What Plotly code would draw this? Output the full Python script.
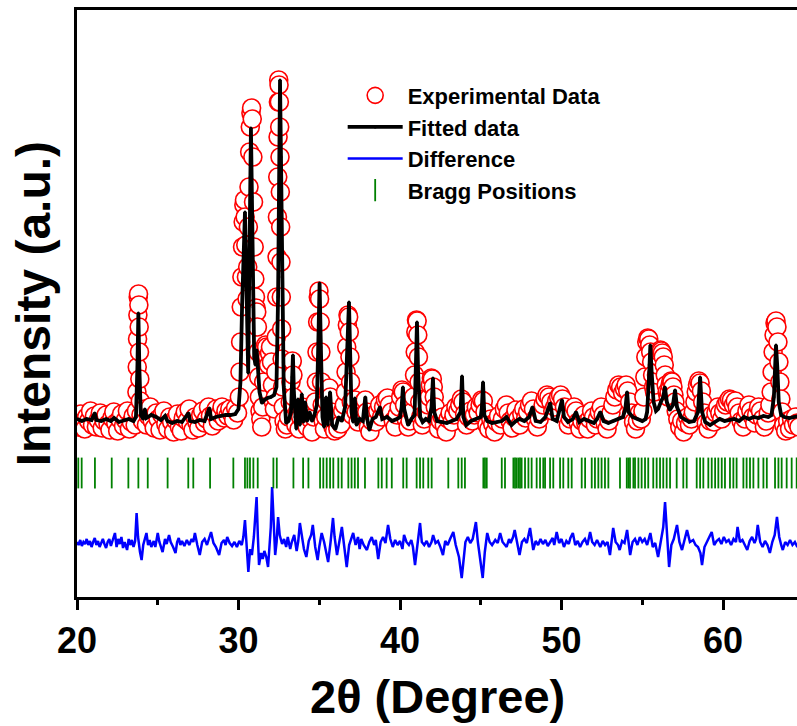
import plotly.graph_objects as go

# ---------------- data (2theta in degrees, intensity in a.u.) ----------------
experimental = [
    (20.00,178),(20.12,170),(20.24,183),(20.36,175),(20.48,168),(20.60,180),(20.72,176),(20.84,186),
    (20.96,172),(21.08,181),(21.20,170),(21.32,177),(21.44,184),(21.56,169),(21.68,176),(21.80,182),
    (21.92,173),(22.04,167),(22.16,179),(22.28,185),(22.40,174),(22.52,166),(22.64,178),(22.76,183),
    (22.88,171),(23.00,177),(23.12,186),(23.24,168),(23.36,175),(23.48,181),(23.60,172),
    (23.68,186),(23.71,205),(23.73,230),(23.75,258),(23.77,282),(23.79,300),(23.81,303),(23.83,292),
    (23.85,270),(23.87,245),(23.89,218),(23.92,196),(23.96,182),
    (24.05,176),(24.18,188),(24.30,172),(24.42,181),(24.54,190),(24.66,176),(24.78,169),(24.90,184),
    (25.02,178),(25.14,167),(25.26,182),(25.38,186),(25.50,173),(25.62,168),(25.74,180),(25.86,175),
    (25.98,165),(26.10,177),(26.22,183),(26.34,170),(26.46,166),(26.58,179),(26.70,185),(26.82,176),
    (26.94,188),(27.06,172),(27.18,167),(27.30,180),(27.42,175),(27.54,169),(27.66,182),(27.78,186),
    (27.90,174),(28.02,178),(28.14,190),(28.26,181),(28.38,171),(28.50,184),(28.62,188),(28.74,176),
    (28.86,183),(28.98,190),(29.10,179),(29.22,186),(29.34,181),(29.46,188),(29.58,183),(29.70,177),
    (29.82,189),(29.94,184),
    (30.05,200),(30.09,225),(30.13,255),(30.17,290),(30.21,320),(30.25,350),(30.29,375),(30.33,392),
    (30.37,397),(30.41,380),(30.45,352),(30.49,320),(30.53,298),(30.57,330),(30.61,370),(30.65,410),
    (30.69,445),(30.73,470),(30.77,484),(30.81,489),(30.85,478),(30.89,440),(30.93,395),(30.97,350),
    (31.01,318),(31.05,300),(31.09,289),(31.13,285),(31.17,270),(31.21,245),(31.25,220),(31.29,200),
    (31.33,186),(31.38,178),(31.44,170),
    (31.50,190),(31.56,215),(31.62,240),(31.68,252),(31.74,250),(31.80,240),(31.86,232),(31.92,244),
    (31.98,250),(32.04,235),(32.10,212),(32.16,195),(32.22,188),
    (32.28,200),(32.31,225),(32.34,260),(32.37,300),(32.39,340),(32.41,380),(32.43,420),(32.45,460),
    (32.47,495),(32.49,517),(32.51,512),(32.53,495),(32.55,470),(32.57,440),(32.59,405),(32.61,370),
    (32.63,335),(32.65,300),(32.67,268),(32.70,238),(32.73,210),(32.77,190),(32.82,176),(32.90,168),
    (33.00,172),(33.10,180),
    (33.20,195),(33.25,215),(33.29,235),(33.33,236),(33.37,222),(33.41,200),(33.47,180),
    (33.55,172),(33.65,185),(33.75,168),(33.85,180),(33.95,190),(34.05,176),(34.15,185),(34.25,170),
    (34.35,182),(34.45,178),(34.55,165),(34.65,180),(34.75,195),
    (34.82,215),(34.86,245),(34.90,275),(34.94,300),(34.98,306),(35.02,298),(35.06,275),(35.10,245),
    (35.14,215),(35.18,192),(35.24,176),
    (35.32,168),(35.40,180),(35.48,195),(35.56,205),(35.62,209),(35.68,200),(35.76,185),(35.85,170),
    (35.95,166),(36.05,175),(36.15,168),(36.25,180),(36.35,173),(36.45,186),(36.55,192),
    (36.62,205),(36.66,225),(36.70,250),(36.74,272),(36.78,282),(36.82,280),(36.86,265),(36.90,240),
    (36.94,215),(36.98,195),(37.04,182),
    (37.12,190),(37.20,197),(37.28,185),(37.40,175),(37.52,182),(37.64,190),(37.76,195),(37.85,197),
    (37.94,185),(38.04,170),(38.14,165),(38.26,176),(38.38,182),(38.50,175),(38.62,186),(38.74,192),
    (38.86,180),(38.98,190),(39.10,197),(39.22,199),(39.34,192),(39.46,185),(39.58,176),(39.70,170),
    (39.82,182),(39.94,190),(40.04,200),(40.12,207),(40.20,205),(40.28,192),(40.38,178),(40.50,170),
    (40.62,176),(40.74,185),(40.84,200),
    (40.90,222),(40.94,245),(40.98,265),(41.02,277),(41.06,276),(41.10,262),(41.14,240),(41.18,215),
    (41.22,195),(41.28,180),
    (41.38,172),(41.50,178),(41.62,185),(41.74,192),(41.82,200),(41.88,212),(41.94,219),(42.00,218),
    (42.06,210),(42.12,200),(42.18,190),(42.26,178),(42.38,168),(42.50,176),(42.62,180),(42.74,172),
    (42.86,165),(42.98,178),(43.10,184),(43.22,175),(43.34,182),(43.46,190),(43.58,186),(43.70,192),
    (43.80,198),(43.90,195),(44.00,183),(44.12,172),(44.24,180),(44.36,186),(44.48,176),(44.60,182),
    (44.72,190),(44.84,184),(44.96,192),(45.06,197),(45.16,196),(45.26,185),(45.38,172),(45.50,168),
    (45.62,178),(45.74,173),(45.86,165),(45.98,175),(46.10,181),(46.22,172),(46.34,178),(46.46,188),
    (46.58,192),(46.70,184),(46.82,176),(46.94,169),(47.06,180),(47.18,187),(47.30,178),(47.42,172),
    (47.54,183),(47.66,188),(47.78,179),(47.90,185),(48.02,192),(48.14,196),(48.26,188),(48.38,178),
    (48.50,170),(48.62,178),(48.74,185),(48.86,192),(48.98,198),(49.10,202),(49.22,200),(49.34,195),
    (49.46,186),(49.58,190),(49.70,196),(49.82,200),(49.94,202),(50.06,198),(50.18,190),(50.30,180),
    (50.42,172),(50.54,178),(50.66,185),(50.78,190),(50.90,186),(51.02,175),(51.14,168),(51.26,176),
    (51.38,182),(51.50,174),(51.62,168),(51.74,178),(51.86,186),(51.98,180),(52.10,172),(52.22,178),
    (52.34,185),(52.46,190),(52.58,182),(52.70,174),(52.82,168),(52.94,176),(53.06,184),(53.18,192),
    (53.30,200),(53.42,207),(53.54,212),(53.66,210),(53.78,204),(53.90,208),(54.00,212),(54.10,206),
    (54.22,195),(54.34,184),(54.46,175),(54.58,168),(54.70,176),(54.82,184),(54.94,178),(55.04,186),
    (55.10,200),(55.16,220),(55.22,240),(55.28,255),(55.34,259),(55.40,258),(55.46,252),(55.52,245),
    (55.58,235),(55.64,222),(55.70,210),(55.76,205),(55.82,212),
    (55.88,222),(55.94,232),(56.00,240),(56.06,245),(56.12,247),(56.18,246),(56.24,244),(56.30,240),
    (56.36,232),(56.42,222),(56.48,212),(56.54,205),(56.60,200),(56.66,205),(56.72,212),(56.78,216),
    (56.84,215),(56.90,210),(56.96,202),(57.02,195),(57.10,186),(57.20,178),(57.32,170),(57.44,176),
    (57.56,165),(57.68,174),(57.80,180),(57.92,172),(58.04,178),(58.16,185),(58.26,195),(58.34,205),
    (58.42,212),(58.50,216),(58.58,214),(58.66,206),(58.74,195),(58.84,184),(58.96,174),(59.08,168),
    (59.20,176),(59.32,182),(59.44,175),(59.56,184),(59.68,190),(59.80,184),(59.92,178),(60.04,186),
    (60.16,192),(60.28,195),(60.40,198),(60.52,197),(60.64,192),(60.76,196),(60.88,190),(61.00,184),
    (61.12,176),(61.24,170),(61.36,178),(61.48,186),(61.60,192),(61.72,186),(61.84,180),(61.96,174),
    (62.08,182),(62.20,190),(62.32,186),(62.44,178),(62.56,170),(62.68,176),(62.80,184),(62.90,192),
    (62.98,205),(63.04,225),(63.10,245),(63.16,262),(63.22,274),(63.28,276),(63.34,270),(63.40,255),
    (63.46,235),(63.52,215),(63.58,198),(63.66,185),(63.76,172),(63.88,166),(64.00,176),(64.12,168),
    (64.24,178),(64.36,172),(64.48,180),(64.60,174),(64.70,170),
]

fitted = [
    (20.00,178),(20.30,176),(20.60,178),(20.90,177),(21.10,184),(21.20,177),(21.50,176),(21.80,178),
    (22.10,176),(22.30,179),(22.60,175),(22.90,177),(23.20,178),(23.50,176),(23.65,180),(23.74,230),
    (23.80,284),(23.86,230),(23.95,182),(24.10,178),(24.20,188),(24.30,179),(24.60,182),(24.90,180),
    (25.20,177),(25.45,181),(25.60,176),(25.90,174),(26.20,176),(26.50,175),(26.90,184),(27.00,176),
    (27.30,175),(27.60,177),(27.90,176),(28.20,189),(28.30,178),(28.60,180),(28.90,181),(29.20,182),
    (29.50,182),(29.80,183),(30.00,188),(30.12,215),(30.22,290),(30.32,360),(30.40,385),(30.47,330),
    (30.54,250),(30.60,224),(30.67,330),(30.72,420),(30.77,469),(30.83,400),(30.90,290),(30.97,240),
    (31.05,232),(31.12,247),(31.20,230),(31.30,205),(31.45,194),(31.60,197),(31.80,199),(32.00,200),
    (32.20,202),(32.35,210),(32.45,300),(32.52,430),(32.57,517),(32.63,440),(32.70,320),(32.80,210),
    (32.95,174),(33.10,176),(33.25,185),(33.32,220),(33.37,242),(33.43,205),(33.50,180),(33.58,168),
    (33.68,198),(33.80,172),(33.92,203),(34.02,175),(34.12,195),(34.25,176),(34.40,185),(34.55,176),
    (34.70,182),(34.85,192),(34.95,260),(35.02,314),(35.10,250),(35.20,180),(35.30,170),(35.42,200),
    (35.52,172),(35.67,205),(35.80,172),(36.00,168),(36.20,180),(36.40,176),(36.60,190),(36.75,250),
    (36.84,295),(36.92,240),(37.00,185),(37.10,175),(37.20,199),(37.30,172),(37.50,178),(37.70,176),
    (37.85,200),(37.95,180),(38.10,167),(38.30,178),(38.50,180),(38.76,190),(38.90,178),(39.20,180),
    (39.50,176),(39.80,178),(40.00,180),(40.10,190),(40.18,210),(40.26,188),(40.50,172),(40.70,178),
    (40.90,182),(40.98,230),(41.05,275),(41.12,225),(41.25,180),(41.40,175),(41.60,178),(41.80,176),
    (41.95,190),(42.04,219),(42.12,185),(42.30,176),(42.60,175),(42.90,174),(43.20,176),(43.50,178),
    (43.75,185),(43.84,221),(43.92,180),(44.10,172),(44.40,176),(44.70,178),(45.00,180),(45.07,190),
    (45.14,215),(45.22,182),(45.40,176),(45.70,174),(46.00,175),(46.30,176),(46.60,180),(46.90,172),
    (47.10,175),(47.40,178),(47.70,176),(48.00,180),(48.20,190),(48.40,176),(48.70,175),(49.00,180),
    (49.30,194),(49.45,178),(49.70,176),(49.95,190),(50.03,197),(50.15,180),(50.40,175),(50.70,178),
    (50.90,185),(51.10,175),(51.40,178),(51.70,176),(52.00,174),(52.20,178),(52.40,185),(52.60,176),
    (52.90,174),(53.20,176),(53.50,178),(53.80,180),(53.95,188),(54.06,205),(54.15,185),(54.40,180),
    (54.70,178),(55.00,176),(55.20,178),(55.30,185),(55.42,220),(55.50,252),(55.58,225),(55.70,195),
    (55.85,186),(55.98,188),(56.15,195),(56.30,200),(56.40,210),(56.52,195),(56.70,187),(56.90,192),
    (57.03,207),(57.15,190),(57.40,180),(57.65,177),(57.90,175),(58.20,176),(58.45,185),(58.58,220),
    (58.70,185),(58.90,175),(59.20,172),(59.50,175),(59.80,178),(60.10,176),(60.40,177),(60.70,178),
    (61.00,176),(61.30,180),(61.60,178),(61.90,180),(62.20,179),(62.50,181),(62.80,180),(63.00,182),
    (63.15,200),(63.28,252),(63.36,230),(63.45,195),(63.60,182),(63.80,180),(64.10,179),(64.40,180),
    (64.70,181),
]

difference = [
    (20.00,55),(20.10,52),(20.20,57),(20.30,51),(20.40,55),(20.50,53),(20.60,58),(20.70,52),(20.80,56),
    (20.90,50),(21.00,55),(21.10,59),(21.20,52),(21.30,56),(21.40,50),(21.50,54),(21.60,58),(21.70,53),
    (21.80,49),(21.90,55),(22.00,58),(22.10,51),(22.20,56),(22.35,64),(22.45,50),(22.55,58),(22.65,53),
    (22.75,60),(22.85,49),(22.95,55),(23.10,47),(23.20,58),(23.30,52),(23.40,57),(23.50,50),(23.60,56),
    (23.69,84),(23.78,60),(23.90,45),(24.00,37),(24.10,52),(24.20,58),(24.30,64),(24.40,52),(24.50,57),
    (24.60,50),(24.75,56),(24.85,50),(25.00,64),(25.10,55),(25.20,51),(25.30,45),(25.45,58),(25.55,53),
    (25.70,62),(25.80,55),(25.95,50),(26.10,44),(26.20,55),(26.30,59),(26.40,52),(26.50,56),(26.65,51),
    (26.80,57),(26.95,52),(27.10,58),(27.20,55),(27.30,64),(27.45,52),(27.60,42),(27.75,55),(27.90,58),
    (28.05,52),(28.15,57),(28.30,65),(28.45,54),(28.60,50),(28.80,42),(28.95,54),(29.10,57),(29.20,52),
    (29.30,60),(29.45,54),(29.60,51),(29.75,55),(29.90,50),(30.05,56),(30.20,52),(30.30,60),(30.40,77),
    (30.50,50),(30.61,25),(30.72,48),(30.83,42),(30.95,60),(31.04,80),(31.12,100),(31.20,60),(31.27,32),
    (31.40,44),(31.50,38),(31.60,46),(31.72,40),(31.83,30),(31.92,50),(32.00,70),(32.08,110),(32.17,70),
    (32.27,42),(32.36,55),(32.45,80),(32.55,62),(32.70,53),(32.82,58),(32.95,50),(33.05,60),(33.20,48),
    (33.30,55),(33.45,62),(33.60,46),(33.70,56),(33.80,74),(33.95,56),(34.05,48),(34.20,40),(34.35,56),
    (34.50,62),(34.60,72),(34.75,50),(34.90,37),(35.00,50),(35.15,64),(35.30,55),(35.45,44),(35.55,35),
    (35.70,55),(35.85,79),(35.95,60),(36.10,42),(36.25,56),(36.40,70),(36.55,50),(36.70,30),(36.85,52),
    (37.00,58),(37.10,64),(37.25,52),(37.40,60),(37.50,48),(37.60,58),(37.75,52),(37.95,47),(38.10,55),
    (38.25,60),(38.40,52),(38.50,57),(38.65,38),(38.80,55),(38.95,60),(39.10,54),(39.26,72),(39.40,58),
    (39.55,50),(39.70,57),(39.85,52),(40.00,56),(40.15,48),(40.25,62),(40.40,55),(40.55,52),(40.70,57),
    (40.80,50),(40.93,32),(41.05,50),(41.24,74),(41.35,55),(41.50,52),(41.65,56),(41.80,50),(41.95,55),
    (42.05,62),(42.20,54),(42.35,56),(42.50,50),(42.66,42),(42.80,56),(42.95,52),(43.10,58),(43.30,65),
    (43.45,52),(43.65,40),(43.82,19),(43.95,42),(44.05,55),(44.20,60),(44.35,54),(44.50,58),(44.60,66),
    (44.70,75),(44.82,55),(44.95,40),(45.12,19),(45.25,45),(45.40,64),(45.55,55),(45.70,52),(45.90,57),
    (46.05,54),(46.20,64),(46.35,55),(46.60,50),(46.75,58),(46.85,54),(47.00,60),(47.10,67),(47.25,54),
    (47.40,42),(47.55,55),(47.70,58),(47.85,54),(48.05,69),(48.15,58),(48.25,47),(48.40,56),(48.55,52),
    (48.70,58),(48.85,53),(49.00,57),(49.15,51),(49.30,55),(49.45,59),(49.55,52),(49.70,65),(49.85,54),
    (50.00,58),(50.15,50),(50.30,56),(50.45,53),(50.55,59),(50.70,64),(50.85,52),(51.00,56),(51.15,50),
    (51.30,55),(51.45,58),(51.60,52),(51.77,65),(51.90,55),(52.05,52),(52.20,57),(52.40,50),(52.55,56),
    (52.70,52),(52.85,55),(53.00,42),(53.20,69),(53.35,55),(53.50,52),(53.60,47),(53.75,56),(53.90,54),
    (54.06,67),(54.25,42),(54.40,55),(54.55,58),(54.70,52),(54.85,60),(55.00,55),(55.15,58),(55.30,52),
    (55.50,64),(55.65,50),(55.80,54),(55.98,40),(56.15,55),(56.30,70),(56.41,95),(56.52,60),(56.66,30),
    (56.80,52),(56.95,58),(57.15,72),(57.30,55),(57.46,47),(57.60,56),(57.77,67),(57.95,55),(58.15,57),
    (58.30,52),(58.45,50),(58.60,44),(58.70,32),(58.85,50),(59.00,56),(59.15,60),(59.30,65),(59.45,52),
    (59.60,56),(59.75,58),(59.90,53),(60.05,60),(60.20,55),(60.35,57),(60.50,52),(60.65,58),(60.80,55),
    (60.90,70),(61.05,55),(61.20,57),(61.35,52),(61.50,47),(61.65,56),(61.80,60),(61.95,54),(62.05,58),
    (62.15,72),(62.30,55),(62.45,50),(62.60,56),(62.75,52),(62.90,44),(63.05,55),(63.20,62),(63.34,80),
    (63.48,60),(63.60,52),(63.70,47),(63.85,55),(64.00,52),(64.15,57),(64.30,52),(64.45,55),(64.60,50),
    (64.70,53),
]

bragg_positions = [
    20.08, 20.29, 21.11, 22.15, 23.18, 23.80, 24.38, 25.61, 26.89, 27.20, 28.24, 29.68, 30.40, 30.55,
    30.71, 30.92, 31.19, 32.16, 32.37, 33.40, 34.00, 34.33, 35.05, 35.25, 35.46, 35.67, 35.87, 36.18,
    36.39, 36.80, 37.00, 37.20, 37.40, 37.83, 38.66, 38.87, 39.17, 39.49, 40.20, 40.41, 41.03, 41.24,
    41.44, 41.75, 41.96, 42.99, 43.61, 43.82, 44.02, 45.16, 45.26, 45.37, 46.30, 46.50, 47.02, 47.12,
    47.22, 47.33, 47.43, 47.53, 47.74, 47.95, 48.15, 48.46, 48.67, 48.87, 48.98, 49.29, 49.49, 49.91,
    50.11, 50.42, 50.63, 51.25, 51.46, 51.87, 52.07, 52.28, 52.48, 52.69, 52.90, 53.62, 54.04, 54.14,
    54.24, 54.45, 54.55, 54.76, 54.96, 55.17, 55.37, 55.68, 55.89, 56.10, 56.30, 56.51, 56.72, 57.13,
    57.54, 57.75, 58.37, 58.58, 58.78, 59.09, 59.30, 59.51, 59.71, 59.92, 60.12, 60.43, 60.64, 60.84,
    61.26, 61.46, 61.67, 61.88, 62.19, 62.50, 62.71, 63.22, 63.43, 63.63, 63.94, 64.25, 64.56,
]

x_ticks = [20, 30, 40, 50, 60]
x_minor_ticks = [25, 35, 45, 55]

# ---------------- styling / layout constants ----------------
X_RANGE = [20, 64.58]
Y_RANGE = [0, 587]
BRAGG_LEVEL = 124
FONT = "Liberation Sans, Arial, sans-serif"

fig = go.Figure()

fig.add_trace(go.Scatter(
    x=[p[0] for p in experimental], y=[p[1] for p in experimental],
    mode="markers", name="Experimental Data",
    marker=dict(symbol="circle", size=18, color="white",
                line=dict(color="#ff0000", width=1.6)),
))
fig.add_trace(go.Scatter(
    x=[p[0] for p in fitted], y=[p[1] for p in fitted],
    mode="lines+markers", name="Fitted data",
    line=dict(color="black", width=3.8),
    marker=dict(color="black", size=3),
))
fig.add_trace(go.Scatter(
    x=[p[0] for p in difference], y=[p[1] for p in difference],
    mode="lines", name="Difference",
    line=dict(color="#0000ff", width=2.5),
))
fig.add_trace(go.Scatter(
    x=bragg_positions, y=[BRAGG_LEVEL] * len(bragg_positions),
    mode="markers", name="Bragg Positions",
    marker=dict(symbol="line-ns", size=22, color="#008000",
                line=dict(color="#008000", width=1.8)),
))

fig.update_layout(
    width=797, height=726,
    margin=dict(l=77, r=0, t=10, b=129),
    paper_bgcolor="white", plot_bgcolor="white",
    font=dict(family=FONT, color="black"),
    legend=dict(
        x=0.369, y=0.89, xanchor="left", yanchor="top",
        font=dict(family=FONT, size=22, color="black", weight="bold"),
        bgcolor="rgba(0,0,0,0)", borderwidth=0,
        itemwidth=55, tracegroupgap=0,
    ),
    xaxis=dict(
        range=X_RANGE, showline=True, linewidth=3, linecolor="black", mirror=True,
        ticks="outside", ticklen=10, tickwidth=3, tickcolor="black",
        tickvals=x_ticks, ticktext=[str(v) for v in x_ticks],
        tickfont=dict(family=FONT, size=36, color="black", weight="bold"),
        minor=dict(tickvals=x_minor_ticks, ticks="outside", ticklen=5, tickwidth=3, tickcolor="black"),
        showgrid=False, zeroline=False,
    ),
    yaxis=dict(
        range=Y_RANGE, showline=True, linewidth=3, linecolor="black",
        ticks="", showticklabels=False, showgrid=False, zeroline=False,
    ),
    annotations=[
        dict(text="Intensity (a.u.)", xref="paper", yref="paper",
             x=-0.06, y=0.5, xanchor="center", yanchor="middle", textangle=-90,
             showarrow=False, font=dict(family=FONT, size=48, color="black", weight="bold")),
        dict(text="2θ (Degree)", xref="paper", yref="paper",
             x=0.5, y=-0.17, xanchor="center", yanchor="middle",
             showarrow=False, font=dict(family=FONT, size=47, color="black", weight="bold")),
    ],
)

fig.write_html("out.html")
